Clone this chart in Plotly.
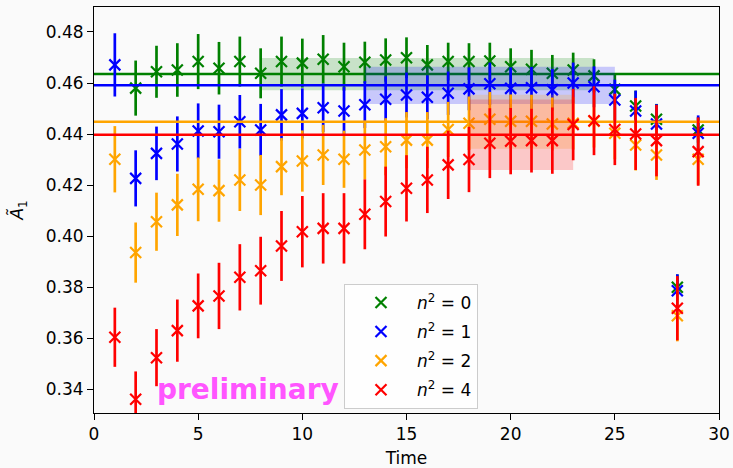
import plotly.graph_objects as go

# Effective axial coupling per time slice for several squared momenta n^2
times = list(range(1, 30))

green_t = list(range(2, 30))
green_val = [0.4580, 0.4644, 0.4651, 0.4684, 0.4658, 0.4684, 0.4638, 0.4684, 0.4678, 0.4693,
             0.4664, 0.4681, 0.4690, 0.4699, 0.4671, 0.4684, 0.4684, 0.4686, 0.4664, 0.4654,
             0.4638, 0.4651, 0.4628, 0.4575, 0.4510, 0.4458, 0.3799, 0.4416]
green_err = [0.0108, 0.0102, 0.0105, 0.0108, 0.0103, 0.0098, 0.0098, 0.0098, 0.0096, 0.0095,
             0.0094, 0.0081, 0.0085, 0.0080, 0.0078, 0.0074, 0.0072, 0.0072, 0.0072, 0.0076,
             0.0072, 0.0068, 0.0065, 0.0060, 0.0060, 0.0060, 0.0050, 0.0050]

blue_t = times
blue_val = [0.4671, 0.4226, 0.4324, 0.4361, 0.4412, 0.4409, 0.4448, 0.4416, 0.4475, 0.4481,
            0.4503, 0.4490, 0.4515, 0.4536, 0.4553, 0.4544, 0.4560, 0.4577, 0.4597, 0.4579,
            0.4581, 0.4573, 0.4600, 0.4585, 0.4533, 0.4490, 0.4439, 0.3785, 0.4403]
blue_err = [0.0124, 0.0110, 0.0105, 0.0108, 0.0108, 0.0106, 0.0105, 0.0102, 0.0101, 0.0098,
            0.0095, 0.0094, 0.0092, 0.0090, 0.0088, 0.0086, 0.0085, 0.0084, 0.0083, 0.0082,
            0.0082, 0.0082, 0.0080, 0.0080, 0.0080, 0.0080, 0.0078, 0.0065, 0.0070]

orange_t = times
orange_val = [0.4301, 0.3935, 0.4056, 0.4122, 0.4183, 0.4178, 0.4220, 0.4200, 0.4272, 0.4294,
              0.4318, 0.4301, 0.4337, 0.4350, 0.4376, 0.4376, 0.4418, 0.4442, 0.4458, 0.4450,
              0.4450, 0.4439, 0.4442, 0.4450, 0.4403, 0.4357, 0.4318, 0.3687, 0.4301]
orange_err = [0.0130, 0.0118, 0.0114, 0.0122, 0.0125, 0.0122, 0.0122, 0.0118, 0.0112, 0.0120,
              0.0118, 0.0112, 0.0115, 0.0112, 0.0110, 0.0110, 0.0108, 0.0105, 0.0107, 0.0105,
              0.0104, 0.0104, 0.0103, 0.0103, 0.0102, 0.0100, 0.0098, 0.0100, 0.0100]

red_t = times
red_val = [0.3603, 0.3360, 0.3523, 0.3629, 0.3726, 0.3765, 0.3838, 0.3864, 0.3961, 0.4017,
           0.4030, 0.4030, 0.4085, 0.4135, 0.4187, 0.4220, 0.4279, 0.4300, 0.4364, 0.4372,
           0.4374, 0.4374, 0.4437, 0.4452, 0.4418, 0.4400, 0.4374, 0.3717, 0.4331]
red_err = [0.0116, 0.0109, 0.0112, 0.0122, 0.0127, 0.0130, 0.0130, 0.0133, 0.0137, 0.0140,
           0.0138, 0.0138, 0.0137, 0.0137, 0.0130, 0.0130, 0.0134, 0.0128, 0.0137, 0.0130,
           0.0125, 0.0130, 0.0140, 0.0135, 0.0140, 0.0141, 0.0140, 0.0126, 0.0134]

# Constant fits: value, uncertainty and fit window for each n^2
fit_val = [0.4635, 0.4591, 0.4448, 0.4397]
fit_err = [0.0063, 0.0073, 0.0106, 0.0138]
fit_start = [8, 13, 18, 18]
fit_end = [24, 25, 23, 23]

labels = ["<i>n</i><sup>2</sup> = 0", "<i>n</i><sup>2</sup> = 1",
          "<i>n</i><sup>2</sup> = 2", "<i>n</i><sup>2</sup> = 4"]
colors = ["#008000", "#0000ff", "#ffa500", "#ff0000"]
fills = ["rgba(0,128,0,0.2)", "rgba(0,0,255,0.2)",
         "rgba(255,165,0,0.2)", "rgba(255,0,0,0.2)"]

series = [(green_t, green_val, green_err), (blue_t, blue_val, blue_err),
          (orange_t, orange_val, orange_err), (red_t, red_val, red_err)]

x_range = [0, 30]
y_range = [0.3306, 0.4898]
FONT = "DejaVu Sans"
FS = 17

fig = go.Figure()
for i, (t, v, e) in enumerate(series):
    fig.add_trace(go.Scatter(
        x=t, y=v, mode="markers", name=labels[i], legendgroup=f"g{i}",
        marker=dict(symbol="x-thin", size=11, color=colors[i],
                    line=dict(width=2.2, color=colors[i])),
        error_y=dict(type="data", array=e, visible=True, color=colors[i],
                     thickness=2.7, width=0),
    ))
    # horizontal line for the fitted constant across the full axis
    fig.add_trace(go.Scatter(
        x=x_range, y=[fit_val[i], fit_val[i]], mode="lines",
        line=dict(color=colors[i], width=2.6), showlegend=False, hoverinfo="skip",
    ))
    # uncertainty band over the fit window
    lo = fit_val[i] - fit_err[i]
    hi = fit_val[i] + fit_err[i]
    fig.add_trace(go.Scatter(
        x=[fit_start[i], fit_end[i], fit_end[i], fit_start[i], fit_start[i]],
        y=[lo, lo, hi, hi, lo], mode="lines", fill="toself",
        fillcolor=fills[i], line=dict(width=0), showlegend=False, hoverinfo="skip",
    ))

fig.add_annotation(
    x=2.95, y=0.3398, xref="x", yref="y", text="<b>preliminary</b>",
    showarrow=False, xanchor="left", yanchor="middle",
    font=dict(family=FONT, size=28, color="#ff55ff"),
)

axis_common = dict(
    showline=True, mirror=True, linecolor="black", linewidth=1.1,
    ticks="outside", ticklen=6, tickwidth=1.1, tickcolor="black",
    showgrid=False, zeroline=False, automargin=False,
    tickfont=dict(family=FONT, size=FS, color="black"),
)

fig.update_layout(
    width=733, height=468,
    margin=dict(l=94, r=14, t=7, b=55),
    paper_bgcolor="#fafafa", plot_bgcolor="#fafafa",
    font=dict(family=FONT, size=FS, color="black"),
    xaxis=dict(range=x_range, tickvals=[0, 5, 10, 15, 20, 25, 30],
               title=dict(text="Time", standoff=9, font=dict(family=FONT, size=FS)),
               **axis_common),
    yaxis=dict(range=y_range,
               tickvals=[0.34, 0.36, 0.38, 0.40, 0.42, 0.44, 0.46, 0.48],
               tickformat=".2f",
               title=dict(text="<i>Ã</i><sub>1</sub>", standoff=17,
                          font=dict(family=FONT, size=FS)),
               **axis_common),
    legend=dict(x=0.4, y=0.318, xanchor="left", yanchor="top",
                bgcolor="rgba(255,255,255,0.8)", bordercolor="#cccccc", borderwidth=1,
                font=dict(family=FONT, size=FS), tracegroupgap=4, itemwidth=62),
    showlegend=True,
)

fig.write_html("out.html")
